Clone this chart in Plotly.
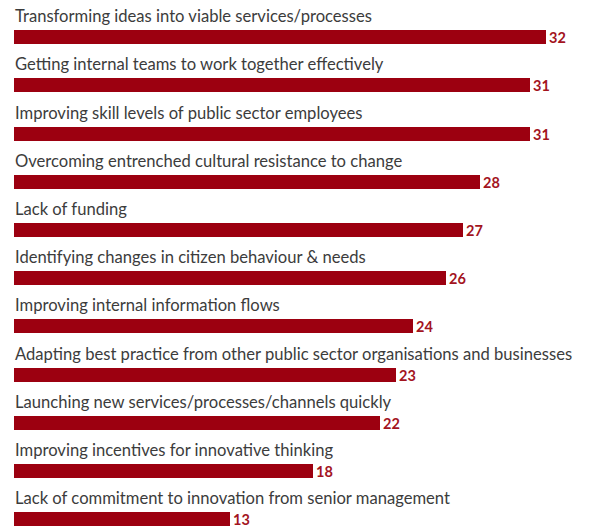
import plotly.graph_objects as go

# Survey responses: share of respondents citing each challenge (%)
challenges = [
    "Transforming ideas into viable services/processes",
    "Getting internal teams to work together effectively",
    "Improving skill levels of public sector employees",
    "Overcoming entrenched cultural resistance to change",
    "Lack of funding",
    "Identifying changes in citizen behaviour & needs",
    "Improving internal information flows",
    "Adapting best practice from other public sector organisations and businesses",
    "Launching new services/processes/channels quickly",
    "Improving incentives for innovative thinking",
    "Lack of commitment to innovation from senior management",
]
shares = [32, 31, 31, 28, 27, 26, 24, 23, 22, 18, 13]

BAR_COLOR = "#9c0010"
VALUE_COLOR = "#a3141e"
LABEL_COLOR = "#3c3c3c"
FONT = "Lato"

fig = go.Figure(
    go.Bar(
        x=shares,
        y=challenges,
        orientation="h",
        width=0.29,
        marker=dict(color=BAR_COLOR, line=dict(width=0)),
        text=shares,
        texttemplate="<b>%{text}</b>",
        textposition="outside",
        constraintext="none",
        textfont=dict(family=FONT, size=14.5, color=VALUE_COLOR),
        cliponaxis=False,
        hoverinfo="skip",
    )
)

# Category names sit above each bar, left-aligned with the bar start
for name in challenges:
    fig.add_annotation(
        x=0, y=name, xref="x", yref="y",
        text=name, showarrow=False,
        xanchor="left", yanchor="bottom", yshift=9, xshift=-1,
        font=dict(family=FONT, size=16.6, color=LABEL_COLOR),
    )

fig.update_layout(
    width=591, height=526,
    margin=dict(l=14, r=0, t=0, b=0),
    paper_bgcolor="white", plot_bgcolor="white",
    showlegend=False,
    bargap=0,
)
fig.update_xaxes(range=[0, 577 / 16.63], visible=False, fixedrange=True)
fig.update_yaxes(
    type="category",
    categoryorder="array", categoryarray=challenges,
    range=[10.141, -0.772],
    visible=False, fixedrange=True,
)

fig.write_html("out.html", config={"displayModeBar": False})
